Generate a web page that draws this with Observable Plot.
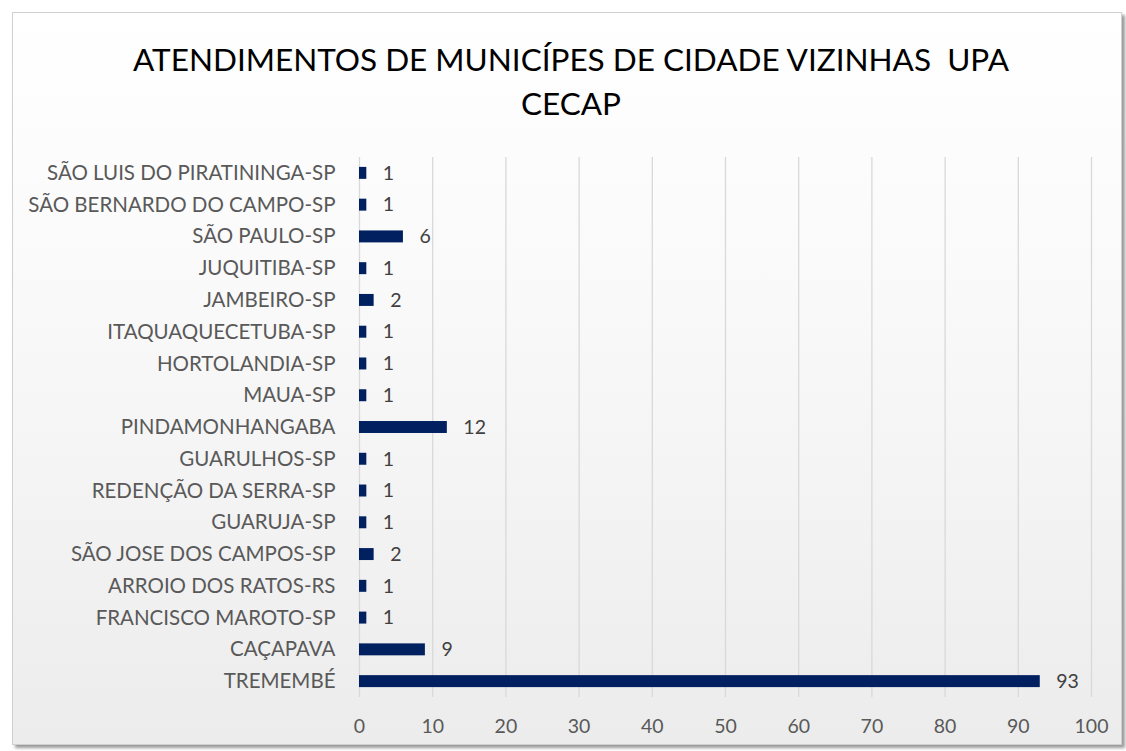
<!DOCTYPE html>
<html><head><meta charset="utf-8">
<script src="https://cdn.jsdelivr.net/npm/d3@7"></script>
<script src="https://cdn.jsdelivr.net/npm/@observablehq/plot@0.6"></script>
<style>
html,body{margin:0;padding:0;background:#fff;width:1126px;height:751px;overflow:hidden;}
#frame{position:absolute;left:12px;top:12px;width:1108px;height:731px;
 background:linear-gradient(#ffffff 0%, #f9f9f9 40%, #ececec 100%);
 border:1px solid #d0d0d0;box-shadow:3px 3px 3px #9a9a9a;}
#title{position:absolute;left:4px;top:24px;width:1108px;text-align:center;font-family:Lato,sans-serif;
 font-size:31.5px;line-height:44px;color:#000;}
#chart{position:absolute;left:0;top:127px;}
</style></head>
<body>
<div id="frame">
 <div id="title">ATENDIMENTOS DE MUNICÍPES DE CIDADE VIZINHAS&nbsp; UPA<br>CECAP</div>
 <div id="chart"></div>
</div>
<script>
const cities = ["SÃO LUIS DO PIRATININGA-SP","SÃO BERNARDO DO CAMPO-SP","SÃO PAULO-SP","JUQUITIBA-SP","JAMBEIRO-SP","ITAQUAQUECETUBA-SP","HORTOLANDIA-SP","MAUA-SP","PINDAMONHANGABA","GUARULHOS-SP","REDENÇÃO DA SERRA-SP","GUARUJA-SP","SÃO JOSE DOS CAMPOS-SP","ARROIO DOS RATOS-RS","FRANCISCO MAROTO-SP","CAÇAPAVA","TREMEMBÉ"];
const counts = [1,1,6,1,2,1,1,1,12,1,1,1,2,1,1,9,93];
const xTicks = [0,10,20,30,40,50,60,70,80,90,100];

const data = cities.map((c,i)=>({city:c, n:counts[i]}));

const chart = Plot.plot({
  width: 1108,
  height: 611,
  marginLeft: 346,
  marginRight: 30,
  marginTop: 17,
  marginBottom: 54,
  style: {fontFamily: "Lato, sans-serif", fontSize: "18px", color: "#595959", background: "transparent", overflow: "visible"},
  x: {domain: [0,100], ticks: xTicks, label: null},
  y: {domain: cities, label: null, padding: 0, round: false},
  marks: [
    Plot.ruleX(xTicks, {stroke: "#d9d9d9", strokeWidth: 1.3}),
    Plot.barX(data, {y: "city", x: "n", fill: "#002060", insetTop: 9.9, insetBottom: 9.9}),
    Plot.text(data, {y: "city", x: "n", text: d => String(d.n), dx: 16, textAnchor: "start", fill: "#404040", fontSize: 19.5}),
    Plot.axisX({ticks: xTicks, tickSize: 0, tickPadding: 22, label: null, fontSize: 19.5}),
    Plot.axisY({tickSize: 0, tickPadding: 24, label: null, fontSize: 20.5})
  ]
});
document.getElementById("chart").appendChild(chart);
</script>
</body></html>
